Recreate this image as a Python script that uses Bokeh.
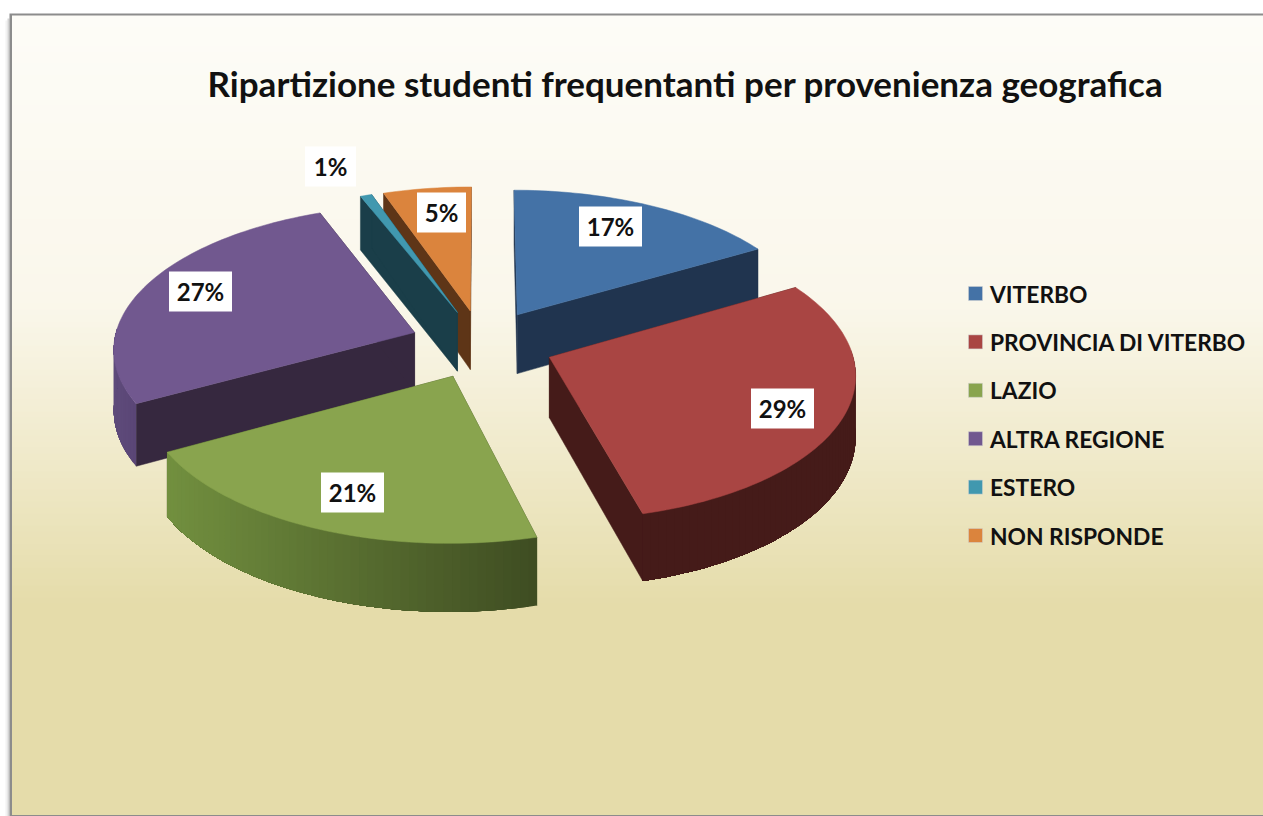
import math
from bokeh.plotting import figure
from bokeh.models import Range1d, ColumnDataSource
from bokeh.core.properties import value
from bokeh.embed import file_html
from bokeh.resources import INLINE

# ---- data ----
title_text = "Ripartizione studenti frequentanti per provenienza geografica"
categories = ["VITERBO", "PROVINCIA DI VITERBO", "LAZIO", "ALTRA REGIONE", "ESTERO", "NON RISPONDE"]
percent = [16.6, 29.3, 21.1, 27.0, 0.7, 5.3]

# ---- styles ----
top_colors = ["#4472A6", "#A94543", "#89A44E", "#71588F", "#4198AF", "#DB843D"]
face_colors = ["#20344F", "#451B19", "#3F4D22", "#36283F", "#1A3E49", "#5E3517"]
rim_left = ["#20344F", "#451B19", "#72903F", "#5F4B7B", "#1A3E49", "#5E3517"]
rim_right = ["#20344F", "#451B19", "#3F4D22", "#5A4676", "#1A3E49", "#5E3517"]
draw_order = [5, 4, 0, 3, 1, 2]

# ---- placement ----
label_x = [610, 782, 352, 200, 330, 441]
label_y = [226, 408, 492, 291, 166, 212]
label_w = [63, 63, 63, 63, 51, 49]
label_h = 40
CX, CY, RX, RY, PERSP, DEPTH, EXPLODE = 481.5, 343.5, 301, 143, 0.102, 60, 0.24
LEG_X, LEG_Y, LEG_STEP = 975, 293, 48.4

W, H = 1263, 816
p = figure(width=W, height=H, output_backend="svg", toolbar_location=None,
           x_range=Range1d(0, W), y_range=Range1d(H, 0),
           min_border=0, outline_line_color=None)
p.axis.visible = False
p.grid.visible = False
p.background_fill_color = "#FFFFFF"
p.border_fill_color = "#FFFFFF"


def hexrgb(c):
    return [int(c[i:i + 2], 16) for i in (1, 3, 5)]


def mix(a, b, t):
    ca, cb = hexrgb(a), hexrgb(b)
    return "#%02X%02X%02X" % tuple(round(x + (y - x) * t) for x, y in zip(ca, cb))


# frame, soft shadow and background gradient
bg_stops = [(15, "#FDFCF7"), (300, "#FAF7EB"), (450, "#F0EACB"), (600, "#E5DCAA"), (816, "#E5DCAA")]
p.quad(left=[5, 7], right=[7, 9], top=[20, 18], bottom=[H, H], fill_color=["#F2F2F2", "#D4D4D4"], line_color=None)
p.quad(left=[9], right=[W], top=[13], bottom=[H], fill_color="#8C8C8C", line_color=None)
strips = list(range(15, 814, 6))
cols = []
for y in strips:
    for (y0, c0), (y1, c1) in zip(bg_stops, bg_stops[1:]):
        if y0 <= y <= y1:
            cols.append(mix(c0, c1, (y - y0) / (y1 - y0)))
            break
p.quad(left=[11.5] * len(strips), right=[W] * len(strips), top=strips,
       bottom=[min(y + 7, 814.5) for y in strips], fill_color=cols, line_color=None)


def project(X, Y):
    s = 1 / (1 + PERSP * Y)
    return CX + RX * X * s, CY - RY * Y * s, DEPTH * s


total = sum(percent)
angles = [0]
for v in percent:
    angles.append(angles[-1] + v / total * 2 * math.pi)

for i in draw_order:
    a0, a1 = angles[i], angles[i + 1]
    mid = (a0 + a1) / 2
    ox, oy = EXPLODE * math.sin(mid), EXPLODE * math.cos(mid)
    n = max(6, int((a1 - a0) / 0.025))
    thetas = [a0 + (a1 - a0) * k / n for k in range(n + 1)]
    arc = [project(ox + math.sin(t), oy + math.cos(t)) for t in thetas]
    tip = project(ox, oy)
    # radial faces
    for e in (arc[0], arc[-1]):
        p.patch([tip[0], e[0], e[0], tip[0]],
                [tip[1], e[1], e[1] + e[2], tip[1] + tip[2]],
                fill_color=face_colors[i], line_color=face_colors[i], line_width=0.5)
    # rim: runs right to left; each band covers all that remains, so no seams show
    vis = [k for k in range(n + 1) if math.cos(thetas[k]) < 0.05]
    if len(vis) > 1:
        pts = [arc[k] for k in vis]
        xmin, xmax = min(q[0] for q in pts), max(q[0] for q in pts)
        for j in range(len(pts) - 1):
            rest = pts[j:]
            c = mix(rim_left[i], rim_right[i], (rest[0][0] - xmin) / max(1, xmax - xmin))
            p.patch([q[0] for q in rest] + [q[0] for q in reversed(rest)],
                    [q[1] for q in rest] + [q[1] + q[2] for q in reversed(rest)],
                    fill_color=c, line_color=None)
    # top surface
    p.patch([tip[0]] + [a[0] for a in arc], [tip[1]] + [a[1] for a in arc],
            fill_color=top_colors[i], line_color=top_colors[i], line_width=0.5)

# data labels
labels = ColumnDataSource(dict(x=label_x, y=label_y, w=label_w, t=["%d%%" % round(v) for v in percent]))
p.rect(x="x", y="y", width="w", height=label_h, source=labels, fill_color="#FFFFFF", line_color=None)
p.text(x="x", y="y", text="t", source=labels, text_font=value("Lato"), text_font_style="bold",
       text_font_size="24px", text_align="center", text_baseline="middle", text_color="#111111")

# legend
ly = [LEG_Y + LEG_STEP * k for k in range(len(categories))]
p.rect(x=[LEG_X] * len(ly), y=ly, width=14, height=14, fill_color=top_colors, line_color="#D0D0D0", line_width=0.5)
p.text(x=[LEG_X + 14.5] * len(ly), y=ly, text=categories, text_font=value("Lato"), text_font_style="bold",
       text_font_size="22.8px", text_align="left", text_baseline="middle", text_color="#111111")

# title
p.text(x=[685], y=[82], text=[title_text], text_font=value("Lato"), text_font_style="bold",
       text_font_size="35px", text_align="center", text_baseline="middle", text_color="#111111")

open("out.html", "w").write(file_html(p, INLINE))
